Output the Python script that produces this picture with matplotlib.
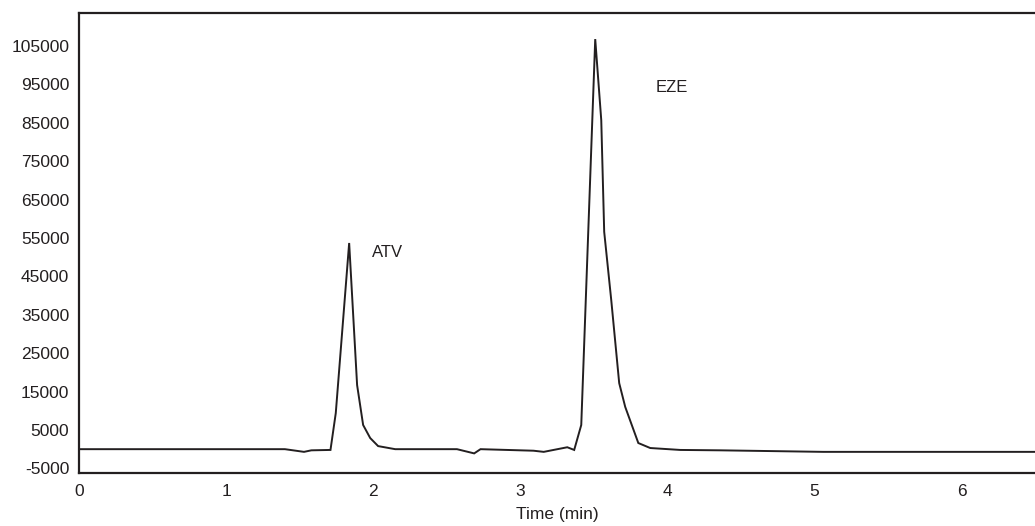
import matplotlib
matplotlib.use("Agg")
import matplotlib.pyplot as plt
import numpy as np

# chromatogram trace (time in min, intensity)
time_min = [0, 1.40, 1.53, 1.58, 1.71, 1.746, 1.837, 1.891, 1.932, 1.980,
            2.034, 2.150, 2.57, 2.687, 2.73, 3.09, 3.16, 3.32, 3.367, 3.415,
            3.463, 3.510, 3.551, 3.571, 3.619, 3.673, 3.714, 3.803, 3.884,
            4.088, 4.36, 5.06, 6.5]
intensity = [0, 0, -700, -300, -200, 9400, 53700, 16700, 6300, 2900,
             800, 0, 0, -1100, 0, -400, -700, 500, -200, 6300,
             57100, 106800, 85700, 56600, 38800, 17200, 11000, 1600, 300,
             -200, -300, -700, -700]

peak_labels = ["ATV", "EZE"]
peak_label_pos = [(1.995, 51100), (3.918, 94300)]

y_ticks = list(range(-5000, 105001, 10000))
x_ticks = [0, 1, 2, 3, 4, 5, 6]

ink = "#231f20"
plt.rcParams['font.family'] = ['Liberation Sans', 'DejaVu Sans']

fig = plt.figure(figsize=(10.35, 5.26), dpi=100)
ax = fig.add_axes([0.0763, 0.1008, 1.0 - 0.0763, 0.9753 - 0.1008])

ax.plot(time_min, intensity, color=ink, lw=1.4, solid_joinstyle='miter')

for lab, (tx, ty) in zip(peak_labels, peak_label_pos):
    ax.text(tx, ty, lab, fontsize=12, color=ink, va='center', ha='left')

ax.set_xlim(0, 6.5)
ax.set_ylim(-6200, 113600)
ax.set_xticks(x_ticks)
ax.set_yticks(y_ticks)
ax.set_yticklabels([str(v) for v in y_ticks])
ax.tick_params(axis='both', length=0, labelsize=12.5, colors=ink)
ax.tick_params(axis='x', pad=8)
ax.tick_params(axis='y', pad=7)
ax.set_xlabel("Time (min)", fontsize=12.5, color=ink, labelpad=6)

for side in ['left', 'top', 'bottom']:
    ax.spines[side].set_linewidth(1.6)
    ax.spines[side].set_color(ink)
ax.spines['right'].set_visible(False)

fig.savefig("out.png", dpi=100)
